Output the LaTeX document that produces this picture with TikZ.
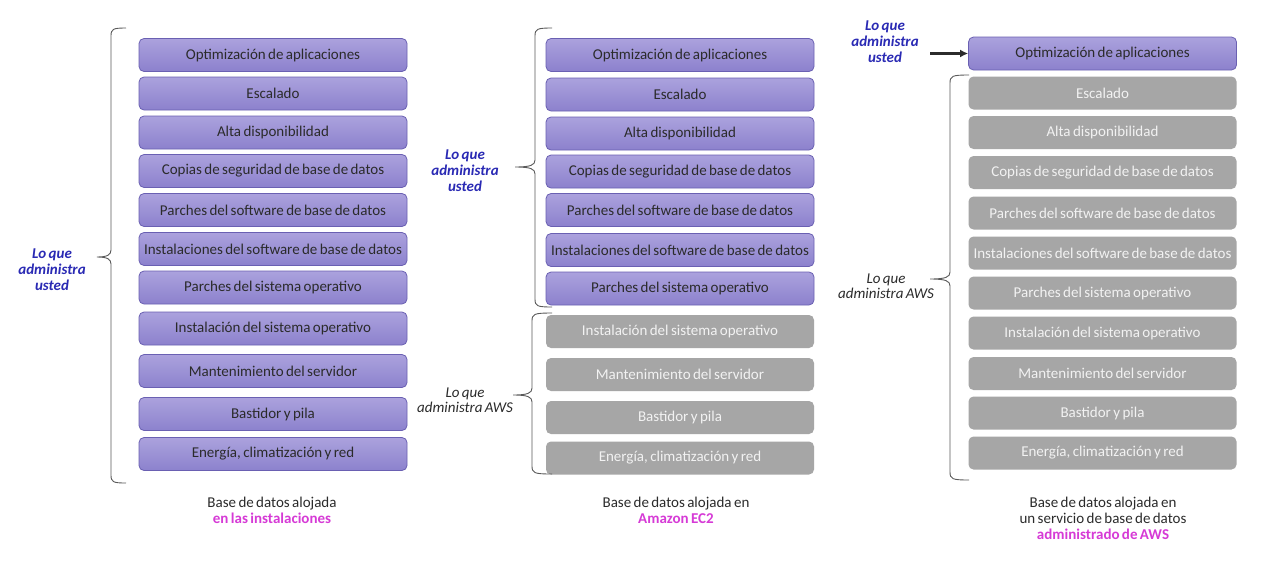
\documentclass[tikz,border=0pt]{standalone}
\usepackage{fontspec}
\setmainfont[WordSpace=0.7]{Carlito}
\usetikzlibrary{arrows.meta}
\definecolor{pborder}{HTML}{6A60B2}
\definecolor{ptop}{HTML}{ABA2DD}
\definecolor{pbot}{HTML}{8C81CD}
\definecolor{gfill}{HTML}{A6A6A6}
\definecolor{gtext}{HTML}{F2F2F2}
\definecolor{tdark}{HTML}{2B2B2B}
\definecolor{ublue}{HTML}{2A2AB4}
\definecolor{magenta}{HTML}{D63AD6}
\definecolor{bracecol}{HTML}{5A5A5A}
\newcommand\mybrace[6]{%
  \draw[bracecol,line width=0.9pt]
    ({#6},{#2}) .. controls ({#1+2},{#2}) and ({#1},{#2+1}) .. ({#1},{#2+8})
    -- ({#1},{#4-7}) .. controls ({#1},{#4-2}) and ({#1-4},{#4}) .. ({#5},{#4})
    .. controls ({#1-4},{#4}) and ({#1},{#4+2}) .. ({#1},{#4+7})
    -- ({#1},{#3-8}) .. controls ({#1},{#3-1}) and ({#1+2},{#3}) .. ({#6},{#3});}
\begin{document}
\begin{tikzpicture}[x=1pt,y=-1pt,
  boxbase/.style={rounded corners=5pt,minimum width=268pt,minimum height=33pt,inner sep=0pt,font=\fontsize{15}{17}\selectfont},
  pbox/.style={boxbase,draw=pborder,line width=0.8pt,top color=ptop,bottom color=pbot,text=tdark},
  gbox/.style={boxbase,fill=gfill,text=gtext},
  ulabel/.style={align=center,text=ublue,font=\fontsize{15}{16}\selectfont\bfseries\itshape},
  alabel/.style={align=center,text=tdark,font=\fontsize{15}{15}\selectfont\itshape},
  caption/.style={align=center,text=tdark,font=\fontsize{15}{16}\selectfont}]
\useasboundingbox[fill=white] (0,0) rectangle (1268,565);

% Column 1
\node[pbox] (a1) at (273,55) {Optimización de aplicaciones};
\node[pbox] (a2) at (273,93.5) {Escalado};
\node[pbox] (a3) at (273,132.5) {Alta disponibilidad};
\node[pbox] (a4) at (273,171) {Copias de seguridad de base de datos};
\node[pbox] (a5) at (273,210) {Parches del software de base de datos};
\node[pbox] (a6) at (273,249) {Instalaciones del software de base de datos};
\node[pbox] (a7) at (273,287.5) {Parches del sistema operativo};
\node[pbox] (a8) at (273,328.5) {Instalación del sistema operativo};
\node[pbox] (a9) at (273,371) {Mantenimiento del servidor};
\node[pbox] (a10) at (273,414) {Bastidor y pila};
\node[pbox] (a11) at (273,454) {Energía, climatización y red};
\mybrace{111}{28}{483}{257}{97}{126}
\node[ulabel] (la) at (52,270) {Lo que\\administra\\usted};
\node[caption] (ca) at (272,510) {Base de datos alojada\\{\color{magenta}\bfseries en las instalaciones}};

% Column 2
\node[pbox] (b1) at (680,55) {Optimización de aplicaciones};
\node[pbox] (b2) at (680,94.5) {Escalado};
\node[pbox] (b3) at (680,133.5) {Alta disponibilidad};
\node[pbox] (b4) at (680,171.5) {Copias de seguridad de base de datos};
\node[pbox] (b5) at (680,210) {Parches del software de base de datos};
\node[pbox] (b6) at (680,250) {Instalaciones del software de base de datos};
\node[pbox] (b7) at (680,288.5) {Parches del sistema operativo};
\node[gbox] (b8) at (680,331.5) {Instalación del sistema operativo};
\node[gbox] (b9) at (680,374.5) {Mantenimiento del servidor};
\node[gbox] (b10) at (680,417.5) {Bastidor y pila};
\node[gbox] (b11) at (680,458) {Energía, climatización y red};
\mybrace{535}{28}{307}{167}{515}{552}
\mybrace{532}{313}{474}{395}{513}{552}
\node[ulabel] (lb1) at (465,170.5) {Lo que\\administra\\usted};
\node[alabel] (lb2) at (465,400.5) {Lo que\\administra AWS};
\node[caption] (cb) at (676,510) {Base de datos alojada en\\{\color{magenta}\bfseries Amazon EC2}};

% Column 3
\node[pbox] (c1) at (1102.5,53.5) {Optimización de aplicaciones};
\node[gbox] (c2) at (1102.5,93) {Escalado};
\node[gbox] (c3) at (1102.5,132.5) {Alta disponibilidad};
\node[gbox] (c4) at (1102.5,172.5) {Copias de seguridad de base de datos};
\node[gbox] (c5) at (1102.5,213) {Parches del software de base de datos};
\node[gbox] (c6) at (1102.5,253) {Instalaciones del software de base de datos};
\node[gbox] (c7) at (1102.5,293) {Parches del sistema operativo};
\node[gbox] (c8) at (1102.5,333) {Instalación del sistema operativo};
\node[gbox] (c9) at (1102.5,373.5) {Mantenimiento del servidor};
\node[gbox] (c10) at (1102.5,413) {Bastidor y pila};
\node[gbox] (c11) at (1102.5,453) {Energía, climatización y red};
\mybrace{950}{75}{480}{279}{930}{969}
\node[ulabel] (lc1) at (885,42) {Lo que\\administra\\usted};
\node[alabel] (lc2) at (886,286.5) {Lo que\\administra AWS};
\coordinate (arrs) at (930,53.5);
\draw[-{Latex[length=8pt,width=8pt]},line width=2.2pt,tdark] (arrs) -- (c1.west);
\node[caption] (cc) at (1103,518) {Base de datos alojada en\\un servicio de base de datos\\{\color{magenta}\bfseries administrado de AWS}};
\end{tikzpicture}
\end{document}
